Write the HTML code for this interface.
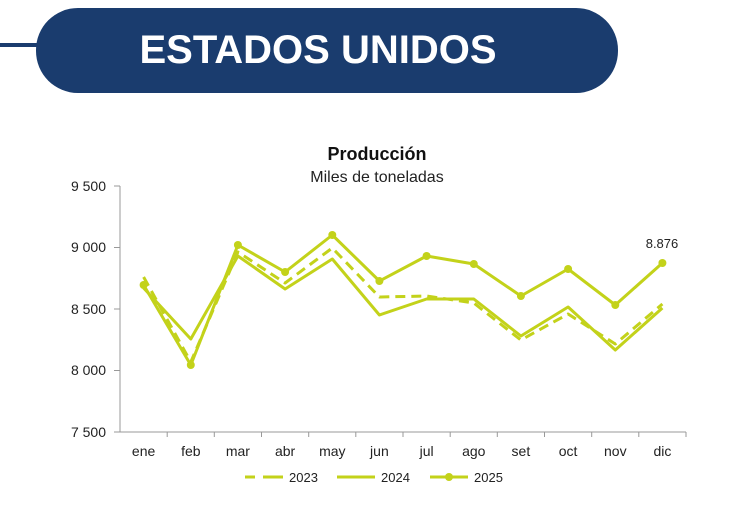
<!DOCTYPE html>
<html><head><meta charset="utf-8"><style>
body{margin:0;width:736px;height:510px;background:#fff;overflow:hidden;font-family:"Liberation Sans",sans-serif}
</style></head><body>
<svg width="736" height="510" xmlns="http://www.w3.org/2000/svg" font-family="Liberation Sans, sans-serif">
<rect x="0" y="43" width="45" height="4" fill="#1a3c6e"/>
<rect x="36" y="8" width="582" height="85" rx="42" fill="#1a3c6e"/>
<text x="318" y="63" text-anchor="middle" font-size="40" font-weight="bold" fill="#fff">ESTADOS UNIDOS</text>
<text x="377" y="160" text-anchor="middle" font-size="18" font-weight="bold" fill="#111">Producción</text>
<text x="377" y="182" text-anchor="middle" font-size="16" fill="#222">Miles de toneladas</text>
<g stroke="#999" stroke-width="1">
<line x1="120" y1="186" x2="120" y2="432"/><line x1="120" y1="432" x2="686" y2="432"/>
<line x1="114" y1="186" x2="120" y2="186"/><line x1="114" y1="247.5" x2="120" y2="247.5"/><line x1="114" y1="309" x2="120" y2="309"/><line x1="114" y1="370.5" x2="120" y2="370.5"/><line x1="114" y1="432" x2="120" y2="432"/>
<line x1="167.2" y1="432" x2="167.2" y2="437"/><line x1="214.3" y1="432" x2="214.3" y2="437"/><line x1="261.5" y1="432" x2="261.5" y2="437"/><line x1="308.7" y1="432" x2="308.7" y2="437"/><line x1="355.8" y1="432" x2="355.8" y2="437"/><line x1="403" y1="432" x2="403" y2="437"/><line x1="450.2" y1="432" x2="450.2" y2="437"/><line x1="497.3" y1="432" x2="497.3" y2="437"/><line x1="544.5" y1="432" x2="544.5" y2="437"/><line x1="591.7" y1="432" x2="591.7" y2="437"/><line x1="638.8" y1="432" x2="638.8" y2="437"/><line x1="686" y1="432" x2="686" y2="437"/>
</g>
<g font-size="14" fill="#222" text-anchor="end">
<text x="106" y="191">9 500</text><text x="106" y="252">9 000</text><text x="106" y="314">8 500</text><text x="106" y="375">8 000</text><text x="106" y="437">7 500</text>
</g>
<g font-size="14" fill="#222" text-anchor="middle">
<text x="143.6" y="456">ene</text><text x="190.8" y="456">feb</text><text x="237.9" y="456">mar</text><text x="285.1" y="456">abr</text><text x="332.3" y="456">may</text><text x="379.4" y="456">jun</text><text x="426.6" y="456">jul</text><text x="473.8" y="456">ago</text><text x="520.9" y="456">set</text><text x="568.1" y="456">oct</text><text x="615.3" y="456">nov</text><text x="662.4" y="456">dic</text>
</g>
<g fill="none" stroke="#c3d21a" stroke-width="3" stroke-linejoin="round">
<polyline stroke-dasharray="10,6" points="143.6,277 190.8,362 237.9,252 285.1,283 332.3,248 379.4,297 426.6,296 473.8,303 520.9,340 568.1,314 615.3,344 662.4,304"/>
<polyline points="143.6,288 190.8,339 237.9,256 285.1,289 332.3,259 379.4,315 426.6,299 473.8,299 520.9,336 568.1,307 615.3,350 662.4,308"/>
<polyline points="143.6,285 190.8,365 237.9,245 285.1,272 332.3,235 379.4,281 426.6,256 473.8,264 520.9,296 568.1,269 615.3,305 662.4,263"/>
</g>
<g fill="#c3d21a">
<circle cx="143.6" cy="285" r="4"/><circle cx="190.8" cy="365" r="4"/><circle cx="237.9" cy="245" r="4"/><circle cx="285.1" cy="272" r="4"/><circle cx="332.3" cy="235" r="4"/><circle cx="379.4" cy="281" r="4"/><circle cx="426.6" cy="256" r="4"/><circle cx="473.8" cy="264" r="4"/><circle cx="520.9" cy="296" r="4"/><circle cx="568.1" cy="269" r="4"/><circle cx="615.3" cy="305" r="4"/><circle cx="662.4" cy="263" r="4"/>
</g>
<text x="662" y="248" text-anchor="middle" font-size="13" fill="#222">8.876</text>
<g stroke="#c3d21a" stroke-width="3">
<line x1="245" y1="477" x2="255" y2="477"/><line x1="263" y1="477" x2="283" y2="477"/>
<line x1="337" y1="477" x2="375" y2="477"/>
<line x1="430" y1="477" x2="468" y2="477"/>
</g>
<circle cx="449" cy="477" r="4" fill="#c3d21a"/>
<g font-size="13" fill="#222"><text x="289" y="482">2023</text><text x="381" y="482">2024</text><text x="474" y="482">2025</text></g>
</svg>
</body></html>
